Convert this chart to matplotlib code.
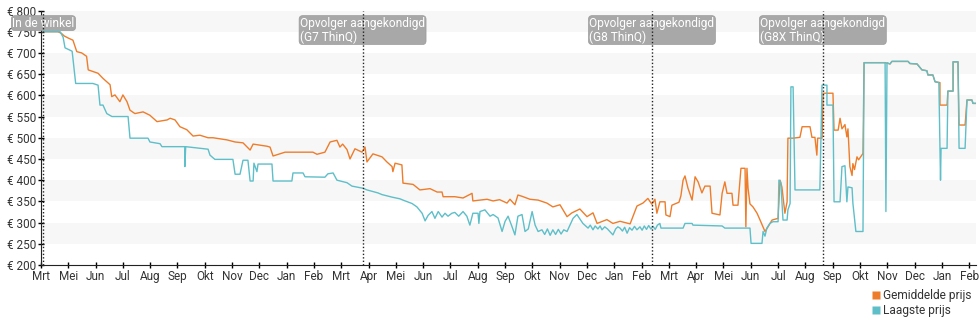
import matplotlib.pyplot as plt
from matplotlib.lines import Line2D

plt.rcParams['font.family'] = ['Roboto', 'DejaVu Sans']

# x-as: maanden vanaf de start (Mrt = 0)
month_labels = ['Mrt', 'Mei', 'Jun', 'Jul', 'Aug', 'Sep', 'Okt', 'Nov', 'Dec', 'Jan', 'Feb',
                'Mrt', 'Apr', 'Mei', 'Jun', 'Jul', 'Aug', 'Sep', 'Okt', 'Nov', 'Dec', 'Jan', 'Feb',
                'Mrt', 'Apr', 'Mei', 'Jun', 'Jul', 'Aug', 'Sep', 'Okt', 'Nov', 'Dec', 'Jan', 'Feb']
price_ticks = list(range(200, 801, 50))

events = [0.09, 11.78, 22.38, 28.64]
event_labels = ['In de winkel',
                'Opvolger aangekondigd\n(G7 ThinQ)',
                'Opvolger aangekondigd\n(G8 ThinQ)',
                'Opvolger aangekondigd\n(G8X ThinQ)']

# Gemiddelde prijs
avg_x = [0.07, 0.62, 0.75, 0.85, 1.0, 1.17, 1.31, 1.49, 1.67, 1.73, 2.09, 2.27, 2.53, 2.59, 2.71, 2.89,
         3.0, 3.15, 3.26, 3.44, 3.74, 3.99, 4.25, 4.62, 4.73, 4.91, 5.09, 5.34, 5.57, 5.82, 6.12, 6.30,
         6.81, 7.11, 7.40, 7.66, 7.77, 8.28, 8.39, 8.50, 8.94, 9.96, 10.11, 10.40, 10.59, 10.84, 10.95,
         11.05, 11.21, 11.32, 11.50, 11.76, 11.87, 11.94, 12.16, 12.49, 12.67, 12.86, 12.89, 12.97,
         13.22, 13.26, 13.63, 13.88, 14.25, 14.51, 14.69, 14.73, 15.16, 15.46, 15.79, 15.82, 16.34,
         16.56, 16.80, 17.07, 17.18, 17.36, 17.47, 17.62, 17.91, 18.21, 18.53, 18.75, 19.01, 19.27,
         19.45, 19.74, 20.00, 20.22, 20.37, 20.73, 20.95, 21.21, 21.58, 21.83, 22.05, 22.23, 22.38,
         22.49, 22.56, 22.67, 22.86, 22.89, 23.04, 23.11, 23.37, 23.44, 23.52, 23.59, 23.70, 23.85,
         23.96, 24.07, 24.21, 24.32, 24.51, 24.58, 24.87, 24.95, 25.05, 25.13, 25.31, 25.35, 25.53,
         25.64, 25.79, 25.82, 25.86, 25.90, 25.97, 26.08, 26.23, 26.34, 26.52, 26.63, 26.78, 27.00,
         27.07, 27.14, 27.25, 27.33, 27.36, 27.55, 27.80, 27.88, 28.17, 28.24, 28.35, 28.42, 28.45,
         28.61, 28.65, 29.01, 29.05, 29.20, 29.27, 29.34, 29.45, 29.52, 29.56, 29.63, 29.71, 29.74,
         29.80, 29.89, 29.95, 30.11, 30.15, 30.92, 31.10, 31.17, 31.76, 31.83, 32.09, 32.27, 32.45,
         32.49, 32.67, 32.75, 32.93, 32.93, 33.19, 33.22, 33.41, 33.41, 33.59, 33.63, 33.85, 33.92,
         34.10, 34.14, 34.29]
avg_y = [750, 750, 746, 740, 735, 730, 703, 700, 692, 660, 652, 640, 625, 597, 601, 585,
         601, 585, 565, 557, 561, 553, 538, 542, 546, 542, 526, 519, 504, 506, 500, 500,
         495, 490, 488, 471, 485, 480, 478, 457, 466, 466, 461, 466, 490, 494, 478,
         485, 472, 450, 474, 466, 478, 443, 462, 455, 443, 432, 420, 440,
         436, 393, 390, 377, 380, 372, 372, 361, 361, 358, 369, 351, 355,
         351, 354, 346, 355, 342, 365, 362, 355, 353, 346, 337, 342, 314,
         323, 332, 314, 323, 298, 307, 298, 303, 297, 339, 346, 357, 343,
         355, 322, 349, 349, 318, 314, 341, 348, 363, 400, 410, 381, 353,
         408, 396, 370, 386, 386, 322, 318, 369, 396, 369, 369, 341, 341,
         428, 428, 290, 428, 381, 344, 337, 322, 306, 279, 290, 306, 310,
         400, 384, 322, 349, 499, 499, 501, 526, 526, 501, 501, 459, 499,
         499, 605, 605, 518, 518, 546, 521, 531, 502, 521, 432, 411, 439,
         425, 455, 448, 463, 677, 677, 674, 680, 680, 675, 674, 660, 658,
         648, 648, 632, 630, 577, 577, 610, 610, 679, 679, 530, 530, 589,
         589, 581, 581]

# Laagste prijs
low_x = [0.07, 0.70, 0.81, 0.88, 1.14, 1.17, 1.27, 1.90, 2.09, 2.16, 2.27, 2.41, 2.60, 3.19, 3.26,
         3.92, 3.99, 4.36, 4.43, 5.27, 5.27, 5.30, 6.12, 6.19, 6.37, 7.03, 7.11, 7.29, 7.40, 7.58,
         7.66, 7.77, 7.80, 7.91, 7.95, 8.46, 8.50, 9.19, 9.23, 9.60, 9.67, 10.40, 10.51, 10.70,
         10.84, 11.21, 11.39, 11.79, 11.94, 12.34, 12.49, 12.86, 13.15, 13.26, 13.59, 13.77, 13.96,
         14.07, 14.18, 14.32, 14.43, 14.55, 14.69, 14.80, 14.91, 15.05, 15.16, 15.30, 15.46, 15.60,
         15.71, 15.82, 16.01, 16.04, 16.08, 16.26, 16.45, 16.56, 16.74, 16.89, 17.00, 17.11, 17.25,
         17.36, 17.47, 17.62, 17.73, 17.85, 17.99, 18.10, 18.21, 18.35, 18.45, 18.55, 18.65, 18.75,
         18.85, 18.95, 19.05, 19.15, 19.27, 19.49, 19.63, 19.85, 20.04, 20.12, 20.22, 20.30, 20.40,
         20.48, 20.55, 20.65, 20.75, 20.85, 20.95, 21.05, 21.13, 21.21, 21.30, 21.38, 21.47, 21.56,
         21.65, 21.74, 21.83, 21.94, 22.02, 22.10, 22.18, 22.26, 22.34, 22.42, 22.50, 22.58, 22.67,
         22.71, 23.52, 23.59, 23.85,
         23.88, 24.95, 25.05, 25.97, 26.01, 26.41, 26.45, 26.52, 26.59, 26.70, 26.81, 27.00, 27.03,
         27.10, 27.18, 27.33, 27.36, 27.44, 27.47, 27.55, 27.62, 28.53, 28.61, 28.79, 28.79, 29.01,
         29.05, 29.27, 29.34, 29.45, 29.52, 29.56, 29.71, 29.74, 29.85, 30.11, 30.15, 30.92, 30.95,
         30.99, 31.10, 31.17, 31.76, 31.83, 32.09, 32.27, 32.45, 32.49, 32.67, 32.75, 32.89, 32.93,
         32.95, 32.97, 33.19, 33.22, 33.41, 33.41, 33.59, 33.63, 33.85, 33.92, 34.10, 34.14, 34.29]
low_y = [750, 750, 737, 712, 704, 687, 628, 628, 624, 577, 577, 557, 550, 550, 499,
         499, 490, 486, 479, 479, 432, 479, 473, 459, 449, 449, 414, 414, 447, 447,
         398, 398, 440, 420, 438, 438, 398, 398, 417, 417, 408, 407, 415, 417,
         400, 394, 386, 381, 377, 370, 366, 360, 356, 353, 345, 337, 322,
         304, 317, 326, 310, 326, 313, 322, 315, 322, 324, 315, 326, 315,
         294, 322, 322, 298, 326, 330, 315, 319, 311, 279, 303, 315, 291,
         271, 315, 319, 279, 285, 326, 294, 279, 283, 272, 285, 270, 283,
         272, 284, 273, 283, 279, 310, 319, 298, 287, 294, 283, 292, 285,
         292, 283, 290, 285, 278, 271, 285, 290, 287, 280, 289, 275, 288,
         282, 291, 283, 290, 282, 292, 284, 293, 285, 291, 284, 294, 298,
         287, 287, 298, 298,
         294, 292, 287, 287, 251, 251, 279, 268, 287, 298, 302, 302, 400,
         395, 306, 306, 330, 345, 620, 620, 377, 377, 624, 624, 577, 577,
         349, 349, 432, 434, 349, 384, 382, 346, 279, 279, 677, 677, 326,
         677, 674, 680, 680, 675, 674, 660, 658, 648, 648, 632, 630, 475,
         400, 475, 475, 610, 610, 679, 679, 475, 475, 589, 589, 581, 581]

orange = '#ee7d2b'
teal = '#5ebfc9'

fig = plt.figure(figsize=(9.8, 3.25), dpi=100)
ax = fig.add_axes([41 / 980, 60 / 325, 935 / 980, 254.5 / 325])

# grijze banden
for lo in price_ticks[1::2]:
    ax.axhspan(lo, lo + 50, color='#f7f7f7', lw=0, zorder=0)

ax.plot(avg_x, avg_y, color=orange, lw=1.0, zorder=2)
ax.plot(low_x, low_y, color=teal, lw=1.0, zorder=3)

for x, lbl in zip(events, event_labels):
    ax.axvline(x, color='#222222', lw=1, ls=(0, (1, 1.5)), zorder=5)
    ax.text(x, 0.976, lbl, transform=ax.get_xaxis_transform(), ha='center', va='top',
            multialignment='left', fontsize=8.6, color='white', linespacing=1.05, zorder=4,
            bbox=dict(boxstyle='round,pad=0.08,rounding_size=0.3', fc='#a8a8a8', ec='#9a9a9a', lw=0.5))

ax.set_xlim(0, 34.25)
ax.set_ylim(200, 800)
ax.set_xticks(range(len(month_labels)))
ax.set_xticklabels(month_labels)
ax.set_yticks(price_ticks)
ax.set_yticklabels(['€ %d' % p for p in price_ticks])
ax.tick_params(axis='both', direction='inout', length=4, width=1, labelsize=8.5,
               labelcolor='#333333', pad=1.5)

for s in ['top', 'right']:
    ax.spines[s].set_visible(False)
for s in ['left', 'bottom']:
    ax.spines[s].set_color('#222222')

handles = [Line2D([], [], ls='', marker='s', ms=6, mfc=orange, mec='none'),
           Line2D([], [], ls='', marker='s', ms=6, mfc=teal, mec='none')]
fig.legend(handles, ['Gemiddelde prijs', 'Laagste prijs'], loc='upper left',
           bbox_to_anchor=(872 / 980, 1 - 289 / 325), frameon=False, fontsize=8.6,
           labelcolor='#333333', handlelength=0.6, handletextpad=0.3, labelspacing=0.2,
           borderpad=0, borderaxespad=0)

fig.savefig('out.png', dpi=100)
